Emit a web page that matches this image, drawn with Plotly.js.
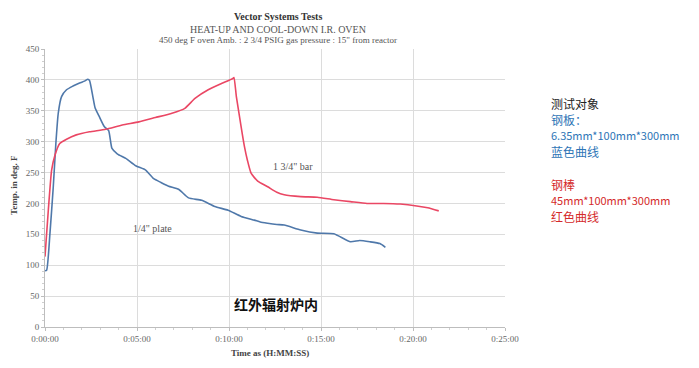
<!DOCTYPE html>
<html>
<head>
<meta charset="utf-8">
<script src="https://cdn.plot.ly/plotly-3.0.1.min.js"></script>
<style>html,body{margin:0;padding:0;background:#fff;}#chart{width:699px;height:368px;}</style>
</head>
<body>
<div id="chart"></div>
<script>
// Time in minutes
const plateTime = [0,0.09,0.27,0.45,0.59,0.72,0.9,1.17,1.52,1.88,2.15,2.33,2.42,2.6,2.72,2.96,3.23,3.46,3.64,3.94,4.39,4.93,5.47,5.91,6.3,6.72,7.26,7.8,8.51,9.23,9.95,10.66,11.38,11.7,12.1,12.6,13.0,13.9,14.8,15.7,16.6,17.1,17.65,18.2,18.5];
const plateTemp = [91,92,152,227,297,346,373,384,390,395,398,401,399,373,355,340,324,318,289,280,273,261,254,240,234,228,223,209,205,195,189,179,173,170,168,166,165,157,152,151,138,140,138,135,129];

const barTime = [0,0.18,0.36,0.54,0.8,1.17,1.7,2.42,3.3,4.2,5.1,6.0,6.9,7.6,8.15,8.87,9.59,10.2,10.27,10.4,10.66,10.84,11.0,11.2,11.56,12.1,12.6,13.0,13.9,14.8,15.7,16.6,17.5,18.4,19.3,20.2,20.8,21.4];
const barTemp = [114,189,254,278,297,304,311,316,320,327,332,339,346,354,370,384,394,402,404,373,324,292,270,249,236,227,218,214,211,210,206,203,200,200,199,196,193,188];

const xTickVals = [0,5,10,15,20,25];
const xTickText = ['0:00:00','0:05:00','0:10:00','0:15:00','0:20:00','0:25:00'];

const serif = 'Liberation Serif, Times New Roman, serif';
const cjk = 'Noto Sans CJK SC, sans-serif';

const traces = [
  {x: plateTime, y: plateTemp, type:'scatter', mode:'lines', name:'1/4" plate',
   line:{color:'#4f78aa', width:1.6, shape:'spline', smoothing:0.5}},
  {x: barTime, y: barTemp, type:'scatter', mode:'lines', name:'1 3/4" bar',
   line:{color:'#ea4764', width:1.6, shape:'spline', smoothing:0.5}}
];

const rightLines = [
  {t:'测试对象', c:'#222222', py:103, s:12},
  {t:'钢板：', c:'#2e75b6', py:119, s:12},
  {t:'6.35mm*100mm*300mm', c:'#2e75b6', py:135, s:11},
  {t:'蓝色曲线', c:'#2e75b6', py:151, s:12},
  {t:'钢棒', c:'#d42a2a', py:184, s:12},
  {t:'45mm*100mm*300mm', c:'#d42a2a', py:200, s:11},
  {t:'红色曲线', c:'#d42a2a', py:216, s:12}
];
const T = 49, B = 327, L = 45, R = 505;
const py2p = py => (B - py) / (B - T);
const px2p = px => (px - L) / (R - L);

const annotations = [
  {text:'<b>Vector Systems Tests</b>', x:px2p(278), y:py2p(16), font:{family:serif,size:10,color:'#333'}},
  {text:'HEAT-UP AND COOL-DOWN I.R. OVEN', x:px2p(278), y:py2p(29), font:{family:serif,size:10,color:'#555'}},
  {text:'450 deg F oven Amb. : 2 3/4 PSIG gas pressure : 15" from reactor', x:px2p(278), y:py2p(40), font:{family:serif,size:9,color:'#555'}},
  {text:'<b>Time as (H:MM:SS)</b>', x:px2p(270), y:py2p(353), font:{family:serif,size:9,color:'#444'}},
  {text:'<b>Temp. in deg. F</b>', x:px2p(14), y:py2p(185), textangle:-90, font:{family:serif,size:9,color:'#444'}},
  {text:'1/4" plate', x:px2p(152), y:py2p(228), font:{family:serif,size:10,color:'#555'}},
  {text:'1 3/4" bar', x:px2p(293), y:py2p(166), font:{family:serif,size:10,color:'#555'}},
  {text:'<b>红外辐射炉内</b>', x:px2p(276), y:py2p(304), font:{family:cjk,size:14,color:'#111'}}
].map(a => Object.assign({xref:'paper', yref:'paper', showarrow:false, xanchor:'center', yanchor:'middle'}, a));

rightLines.forEach(l => annotations.push({
  text:l.t, xref:'paper', yref:'paper', x:px2p(549), y:py2p(l.py), xanchor:'left', yanchor:'middle',
  showarrow:false, font:{family:cjk, size:l.s, color:l.c}
}));

const layout = {
  width:699, height:368,
  margin:{l:L, r:699-R, t:T, b:368-B},
  paper_bgcolor:'#ffffff', plot_bgcolor:'#ffffff',
  showlegend:false,
  xaxis:{range:[0,25], tickvals:xTickVals, ticktext:xTickText, showgrid:true, gridcolor:'#dcdcdc', gridwidth:1,
    showline:true, linecolor:'#bdbdbd', ticks:'outside', ticklen:3, tickcolor:'#bdbdbd',
    minor:{dtick:1, ticks:'outside', ticklen:2, tickcolor:'#cfcfcf', showgrid:false},
    tickfont:{family:serif, size:9, color:'#666'}, zeroline:false, fixedrange:true},
  yaxis:{range:[0,450], dtick:50, showgrid:true, gridcolor:'#dcdcdc', gridwidth:1,
    showline:true, linecolor:'#bdbdbd', ticks:'outside', ticklen:3, tickcolor:'#bdbdbd',
    minor:{dtick:10, ticks:'outside', ticklen:2, tickcolor:'#cfcfcf', showgrid:false},
    tickfont:{family:serif, size:9, color:'#666'}, zeroline:false, fixedrange:true},
  annotations: annotations
};

Plotly.newPlot('chart', traces, layout, {displayModeBar:false, staticPlot:true});
</script>
</body>
</html>
